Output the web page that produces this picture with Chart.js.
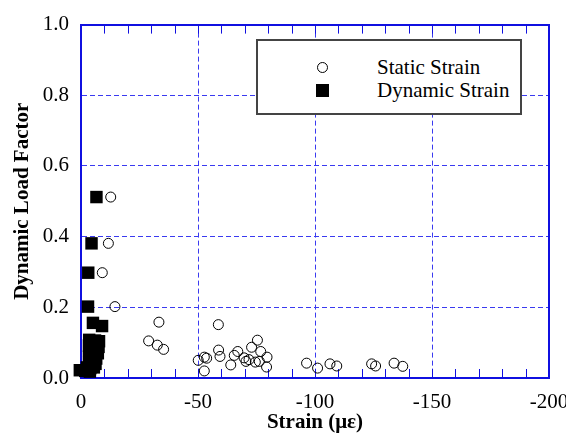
<!DOCTYPE html>
<html>
<head>
<meta charset="utf-8">
<title>Dynamic Load Factor vs Strain</title>
<script src="https://cdn.jsdelivr.net/npm/chart.js@4/dist/chart.umd.min.js"></script>
<style>
  html, body { margin: 0; padding: 0; background: #fff; overflow: hidden; }
  .wrap { position: relative; width: 566px; height: 438px; overflow: hidden; }
  #dlf { display: block; }
  #legend {
    position: absolute; left: 256px; top: 39px; width: 266px; height: 76px;
    box-sizing: border-box; background: #fff; border: 2px solid #444;
    font: 21px 'Liberation Serif', 'Times New Roman', serif; color: #000;
  }
  #legend .row { position: absolute; left: 0; right: 0; height: 24px; line-height: 24px; }
  #legend .txt { position: absolute; left: 119px; top: 0; white-space: nowrap; }
  #legend .mark { position: absolute; box-sizing: border-box; }
  #legend .mark.circle { left: 58.5px; top: 7px; width: 11px; height: 11px; border: 1px solid #000; border-radius: 50%; }
  #legend .mark.rect { left: 58px; top: 6px; width: 12.5px; height: 12.5px; background: #000; }
</style>
</head>
<body>
<div class="wrap">
  <canvas id="dlf" width="600" height="438"></canvas>
  <div id="legend"></div>
</div>
<script>
// static strain readings (microstrain) and their load factors
const staticStrain = [-12.7, -11.7, -9.1, -14.5, -33.3, -28.9, -32.6, -35.3,
  -58.7, -58.8, -59.4, -50.1, -52.7, -53.7, -52.7, -64.0, -65.5, -67.0, -69.7,
  -70.5, -71.8, -72.9, -75.4, -76.8, -74.5, -76.2, -79.5, -79.3,
  -96.4, -101.1, -106.4, -109.3, -124.2, -125.9, -133.8, -137.5];
const staticDlf = [0.512, 0.381, 0.298, 0.202, 0.158, 0.105, 0.093, 0.081,
  0.151, 0.079, 0.061, 0.050, 0.059, 0.056, 0.020, 0.037, 0.064, 0.075, 0.057,
  0.047, 0.052, 0.087, 0.107, 0.075, 0.045, 0.047, 0.059, 0.031,
  0.042, 0.028, 0.040, 0.034, 0.040, 0.034, 0.042, 0.033];

// dynamic strain readings, all packed close to zero
const dynamicStrain = [-6.6, -4.5, -3.1, -3.0, -5.1, -9.0,
  -3.5, -6.0, -7.7, -3.4, -5.5, -7.5, -3.5, -6.0, -7.2,
  -3.4, -5.2, -6.5, -3.5, -5.0, -6.2, -2.5, -4.0, -5.5, 0.5, -1.8, -3.8];
const dynamicDlf = [0.512, 0.381, 0.298, 0.202, 0.156, 0.147,
  0.108, 0.106, 0.104, 0.092, 0.090, 0.088, 0.075, 0.074, 0.070,
  0.060, 0.058, 0.055, 0.045, 0.042, 0.040, 0.030, 0.028, 0.030, 0.022, 0.020, 0.018];

const strainTicks = [0, -50, -100, -150, -200];
const dlfTicks = [0, 0.2, 0.4, 0.6, 0.8, 1.0];
const strainMinorStep = 10;

const axisBlue = '#1010e0';
const gridBlue = '#3a3af0';
const clear = 'rgba(0,0,0,0)';

Chart.defaults.font.family = "'Liberation Serif', 'Times New Roman', serif";
Chart.defaults.font.size = 21;
Chart.defaults.color = '#000';

const toPoints = (xs, ys) => xs.map((x, i) => ({ x, y: ys[i] }));
const useTicks = list => scale => { scale.ticks = list.map(value => ({ value })); };
const atEdge = (ctx, lo, hi) => !ctx.tick || ctx.tick.value <= lo || ctx.tick.value >= hi;

// short inward ticks every 10 microstrain along the bottom and top frame
const minorTicks = {
  id: 'minorTicks',
  beforeDatasetsDraw(chart) {
    const { ctx, chartArea: a, scales: { x } } = chart;
    ctx.save();
    ctx.strokeStyle = axisBlue;
    ctx.lineWidth = 1;
    ctx.beginPath();
    for (let v = x.min; v <= x.max; v += strainMinorStep) {
      const px = Math.round(x.getPixelForValue(v)) + 0.5;
      ctx.moveTo(px, a.bottom); ctx.lineTo(px, a.bottom - 9);
      ctx.moveTo(px, a.top); ctx.lineTo(px, a.top + 9);
    }
    ctx.stroke();
    ctx.restore();
  }
};

// boxed legend laid over the plot, built from the datasets
const htmlLegend = {
  id: 'htmlLegend',
  afterUpdate(chart) {
    const box = document.getElementById('legend');
    box.innerHTML = '';
    chart.data.datasets.forEach((ds, i) => {
      const row = document.createElement('div');
      row.className = 'row';
      row.style.top = (14 + i * 23) + 'px';
      const mark = document.createElement('span');
      mark.className = 'mark ' + ds.pointStyle;
      const txt = document.createElement('span');
      txt.className = 'txt';
      txt.textContent = ds.label;
      row.append(mark, txt);
      box.append(row);
    });
  }
};

new Chart(document.getElementById('dlf'), {
  type: 'scatter',
  data: {
    datasets: [{
      label: 'Static Strain',
      data: toPoints(staticStrain, staticDlf),
      pointStyle: 'circle',
      pointRadius: 5,
      pointBorderWidth: 1,
      pointBorderColor: '#000',
      pointBackgroundColor: clear,
      clip: false
    }, {
      label: 'Dynamic Strain',
      data: toPoints(dynamicStrain, dynamicDlf),
      pointStyle: 'rect',
      pointRadius: 8.8,
      pointBorderWidth: 0,
      pointBackgroundColor: '#000',
      clip: false
    }]
  },
  options: {
    responsive: false,
    animation: false,
    events: [],
    layout: { padding: { top: 16, right: 51, bottom: 0, left: 0 } },
    plugins: { legend: { display: false }, tooltip: { enabled: false } },
    scales: {
      x: {
        type: 'linear', position: 'bottom', min: -200, max: 0, reverse: true,
        afterBuildTicks: useTicks(strainTicks),
        afterFit: s => { s.height = 60; },
        ticks: { padding: 12, callback: v => String(v) },
        grid: { color: ctx => atEdge(ctx, -200, 0) ? clear : gridBlue, lineWidth: 1, drawTicks: false },
        border: { color: axisBlue, width: 2, dash: [5, 3] },
        title: { display: true, text: 'Strain (με)', font: { weight: 'bold', lineHeight: 1 }, padding: { top: 0, bottom: 4.5 } }
      },
      y: {
        type: 'linear', position: 'left', min: 0, max: 1,
        afterBuildTicks: useTicks(dlfTicks),
        afterFit: s => { s.width = 81; },
        ticks: { padding: 12, callback: v => v.toFixed(1) },
        grid: { color: ctx => atEdge(ctx, 0, 1) ? clear : gridBlue, lineWidth: 1, drawTicks: false },
        border: { color: axisBlue, width: 2, dash: [5, 3] },
        title: { display: true, text: 'Dynamic Load Factor', font: { weight: 'bold' }, padding: { top: 10, bottom: 0 } }
      },
      x2: {
        type: 'linear', position: 'top', min: -200, max: 0, reverse: true,
        ticks: { display: false },
        grid: { display: false, drawTicks: false },
        border: { color: axisBlue, width: 2 }
      },
      y2: {
        type: 'linear', position: 'right', min: 0, max: 1,
        ticks: { display: false },
        grid: { display: false, drawTicks: false },
        border: { color: axisBlue, width: 2 }
      }
    }
  },
  plugins: [minorTicks, htmlLegend]
});
</script>
</body>
</html>
